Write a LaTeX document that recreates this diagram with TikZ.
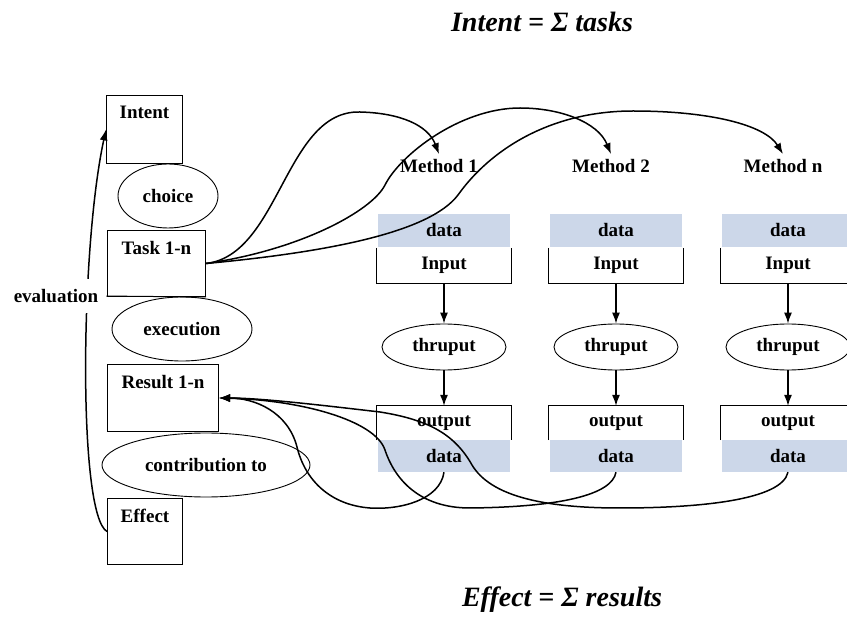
\documentclass[tikz,border=0pt]{standalone}
\usepackage{fontspec}
\setmainfont{Liberation Serif}
\usetikzlibrary{arrows.meta}
\usetikzlibrary{shapes.geometric}
\definecolor{datablue}{RGB}{204,215,233}

\begin{document}
\begin{tikzpicture}[x=1pt,y=-1pt,
    every node/.style={font=\fontsize{19}{22}\selectfont\bfseries},
    stepbox/.style={draw,line width=1pt,anchor=north west,inner sep=0pt},
    oval/.style={draw,ellipse,line width=0.9pt,inner sep=0pt},
    band/.style={fill=datablue,minimum width=132pt,minimum height=33pt,inner sep=0pt},
    frame/.style={minimum width=134pt,minimum height=35pt,inner sep=0pt},
    link/.style={line width=1.5pt,-{Latex[length=11pt,width=8pt]}},
    flow/.style={line width=1.2pt,-{Latex[length=11pt,width=8pt]}},
    sumtext/.style={font=\fontsize{28}{32}\selectfont\bfseries\itshape}]
  \useasboundingbox (0,0) rectangle (847,628);

  % left column
  \node[stepbox,minimum width=76pt,minimum height=68pt,
        label={[anchor=north,yshift=-8pt]north:Intent}] (intent) at (106,95) {};
  \node[oval,minimum width=100pt,minimum height=64pt] (choice) at (168,196) {choice};
  \node[stepbox,minimum width=98pt,minimum height=66pt,
        label={[anchor=north,yshift=-8pt]north:Task 1-n}] (task) at (107,230) {};
  \node[oval,minimum width=140pt,minimum height=64pt] (execution) at (182,329) {execution};
  \node[stepbox,minimum width=111pt,minimum height=67pt,
        label={[anchor=north,yshift=-8pt]north:Result 1-n}] (result) at (107,364) {};
  \node[oval,minimum width=208pt,minimum height=64pt] (contribution) at (206,465) {contribution to};
  \node[stepbox,minimum width=75pt,minimum height=66pt,
        label={[anchor=north,yshift=-8pt]north:Effect}] (effect) at (107,498) {};

  \draw[link] (effect.west) .. controls (78,515) and (80,250) .. (intent.west);
  \node[fill=white,inner xsep=2pt,inner ysep=10pt] (evaluation) at (56,296) {evaluation};
  \draw[line width=1pt,shorten <=6pt] (evaluation.east) -- (task.south east);

  % methods
  \foreach \i/\x/\m in {1/444/1,2/616/2,3/788/n} {
    \node[inner sep=5pt] (m\i) at (\x-5,166) {Method \m};
    \node[band] (din\i) at (\x,230.5) {data};
    \node[frame] (in\i) at (\x,265.5) {Input};
    \draw[line width=1pt] (in\i.north west) -- (in\i.south west) -- (in\i.south east) -- (in\i.north east);
    \node[oval,minimum width=124pt,minimum height=46pt] (thr\i) at (\x,347) {thruput};
    \node[frame,minimum height=34pt] (out\i) at (\x,423) {output};
    \draw[line width=1pt] (out\i.south west) -- (out\i.north west) -- (out\i.north east) -- (out\i.south east);
    \node[band,minimum height=32pt] (dout\i) at (\x,456) {data};
    \draw[flow] (in\i) -- (thr\i);
    \draw[flow] (thr\i) -- (out\i);
  }

  % tasks to methods
  \draw[link] (task.east) .. controls (280,255) and (285,110) .. (360,112)
    .. controls (400,113) and (428,125) .. (m1.north);
  \draw[link] (task.east) .. controls (300,250) and (372,211) .. (385,185)
    .. controls (400,155) and (460,108) .. (520,108)
    .. controls (560,108) and (598,122) .. (m2.north);
  \draw[link] (task.east) .. controls (330,252) and (430,232) .. (458,195)
    .. controls (490,150) and (550,111) .. (633,111)
    .. controls (710,111) and (765,125) .. (m3.north);

  % outputs to results
  \draw[link] (dout1.south) .. controls (440,500) and (400,510) .. (370,508)
    .. controls (330,505) and (305,480) .. (297,447)
    .. controls (288,412) and (255,398) .. (result.east);
  \draw[link] (dout2.south) .. controls (612,495) and (560,507) .. (470,508)
    .. controls (420,508) and (395,480) .. (385,450)
    .. controls (375,420) and (300,400) .. (result.east);
  \draw[link] (dout3.south) .. controls (782,500) and (700,508) .. (620,508)
    .. controls (540,508) and (490,495) .. (472,465)
    .. controls (455,435) and (430,420) .. (380,412)
    .. controls (320,405) and (260,398) .. (result.east);

  % sums
  \node[sumtext] (intentsum) at (542,22) {Intent = Σ tasks};
  \node[sumtext] (effectsum) at (562,600) {Effect = Σ results};
\end{tikzpicture}
\end{document}
